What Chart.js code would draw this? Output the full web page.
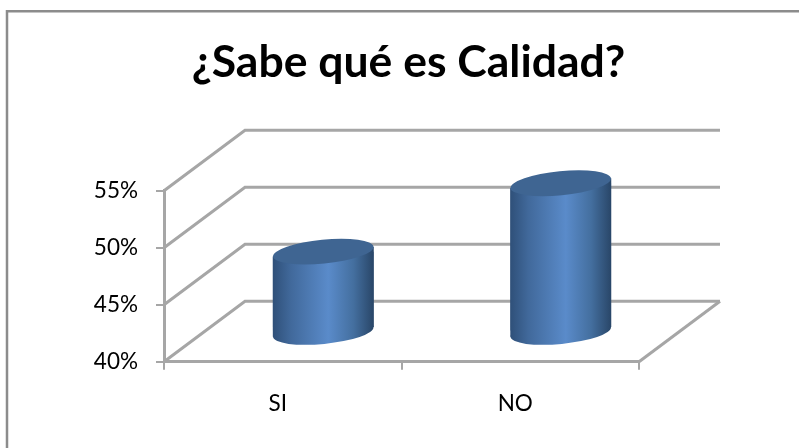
<!DOCTYPE html>
<html><head><meta charset="utf-8">
<style>html,body{margin:0;padding:0;background:#fff}#w{position:absolute;left:0;top:0;width:799px;height:448px}</style>
<script src="https://cdn.jsdelivr.net/npm/chart.js@4"></script>
</head><body><div id="w"><canvas id="c" width="799" height="448"></canvas></div>
<script>
const titleText = '¿Sabe qué es Calidad?';
const categories = ['SI', 'NO'];
const percentValues = [47, 53];
const axisMin = 40, axisMax = 55, axisStep = 5;

const DEPTH_X = 81, DEPTH_Y = 60.5;      // oblique projection of the 3D box
const TILT = -5.6 * Math.PI / 180, MINOR = 12;
const LINE = '#a6a6a6', FONT = 'Lato, Carlito, sans-serif';

function cylinder(el) {
  const a = el.width / 2;
  return { cx: el.x, a, dy: a * Math.sin(-TILT), top: el.y, bot: el.base + 1.5 };
}
function bodyGradient(ctx, c) {
  const g = ctx.createLinearGradient(c.cx - c.a, 0, c.cx + c.a, 0);
  g.addColorStop(0, '#2f5079'); g.addColorStop(0.18, '#41699b');
  g.addColorStop(0.55, '#5a8bca'); g.addColorStop(0.8, '#446f9f');
  g.addColorStop(1, '#294668');
  return g;
}
function sidePath(ctx, c) {
  ctx.moveTo(c.cx + c.a, c.top - c.dy);
  ctx.lineTo(c.cx + c.a, c.bot - c.dy);
  ctx.lineTo(c.cx - c.a, c.bot + c.dy);
  ctx.lineTo(c.cx - c.a, c.top + c.dy);
  ctx.closePath();
}
const box3d = {
  id: 'box3d',
  beforeDraw(chart) {
    const { ctx, width, height } = chart;
    ctx.save();
    ctx.fillStyle = '#fff'; ctx.fillRect(0, 0, width, height);
    ctx.strokeStyle = '#8c8c8c'; ctx.lineWidth = 2.5;
    ctx.beginPath(); ctx.moveTo(7, height); ctx.lineTo(7, 11.3); ctx.lineTo(width, 11.3); ctx.stroke();
    ctx.restore();
  },
  beforeDatasetsDraw(chart) {
    const { ctx, scales: { y }, chartArea: ca } = chart;
    ctx.save();
    ctx.strokeStyle = LINE; ctx.lineWidth = 3; ctx.lineJoin = 'miter';
    y.ticks.forEach(t => {
      const py = y.getPixelForValue(t.value);
      ctx.beginPath(); ctx.moveTo(ca.left, py); ctx.lineTo(ca.left + DEPTH_X, py - DEPTH_Y);
      ctx.lineTo(ca.right + DEPTH_X, py - DEPTH_Y); ctx.stroke();
    });
    ctx.beginPath(); ctx.moveTo(ca.right, ca.bottom); ctx.lineTo(ca.right + DEPTH_X, ca.bottom - DEPTH_Y); ctx.stroke();
    ctx.restore();
  },
  beforeDatasetDraw(chart, args) {
    const { ctx } = chart;
    ctx.save();
    ctx.translate(DEPTH_X / 2, -DEPTH_Y / 2);
    ctx.beginPath();
    args.meta.data.forEach(el => sidePath(ctx, cylinder(el)));
    ctx.clip();
  },
  afterDatasetDraw(chart, args) {
    const { ctx } = chart;
    ctx.restore();
    ctx.save();
    ctx.translate(DEPTH_X / 2, -DEPTH_Y / 2);
    args.meta.data.forEach(el => {
      const c = cylinder(el);
      ctx.fillStyle = bodyGradient(ctx, c);
      ctx.beginPath(); sidePath(ctx, c); ctx.fill();
      ctx.beginPath(); ctx.ellipse(c.cx, c.bot, c.a, MINOR, TILT, 0, Math.PI * 2); ctx.fill();
      ctx.fillStyle = '#3f6592';
      ctx.beginPath(); ctx.ellipse(c.cx, c.top, c.a, MINOR, TILT, 0, Math.PI * 2); ctx.fill();
    });
    ctx.restore();
  }
};

new Chart(document.getElementById('c'), {
  type: 'bar',
  plugins: [box3d],
  data: {
    labels: categories,
    datasets: [{
      data: percentValues,
      base: axisMin,
      clip: false,
      barPercentage: 0.425,
      categoryPercentage: 1,
      borderWidth: 0,
      backgroundColor(c) {
        const s = c.chart.scales.x;
        const p0 = s ? s.getPixelForValue(0) : NaN, p1 = s ? s.getPixelForValue(1) : NaN;
        if (!Number.isFinite(p0) || !Number.isFinite(p1) || c.dataIndex === undefined) return '#4f7fb8';
        return bodyGradient(c.chart.ctx, { cx: s.getPixelForValue(c.dataIndex), a: (p1 - p0) * 0.2125 });
      }
    }]
  },
  options: {
    responsive: false,
    animation: false,
    events: [],
    layout: { padding: { left: 18, right: 0, top: 0, bottom: 0 } },
    plugins: {
      legend: { display: false },
      tooltip: { enabled: false },
      title: {
        display: true, text: titleText, color: '#000',
        font: { family: FONT, size: 44.5, weight: 'bold', lineHeight: 1.2 },
        padding: { top: 36, bottom: 101.3 }
      }
    },
    scales: {
      x: {
        offset: true,
        afterFit(s) { s.height = 86.3; },
        border: { color: LINE, width: 3 },
        grid: { offset: true, drawOnChartArea: false, drawTicks: true, tickLength: 8, color: LINE, lineWidth: 2 },
        ticks: { color: '#000', padding: 21, font: { family: FONT, size: 22.5 }, labelOffset: -5, maxRotation: 0 }
      },
      y: {
        min: axisMin, max: axisMax,
        afterFit(s) { s.width = 146; },
        border: { color: LINE, width: 3 },
        grid: { drawOnChartArea: false, tickLength: 8, color: LINE, lineWidth: 2 },
        ticks: { stepSize: axisStep, color: '#000', padding: 18, font: { family: FONT, size: 22.5 }, callback: v => v + '%' }
      },
      rightGutter: {
        position: 'right', display: true,
        afterFit(s) { s.width = 160; },
        border: { display: false }, grid: { display: false }, ticks: { display: false }
      }
    }
  }
});
</script></body></html>
